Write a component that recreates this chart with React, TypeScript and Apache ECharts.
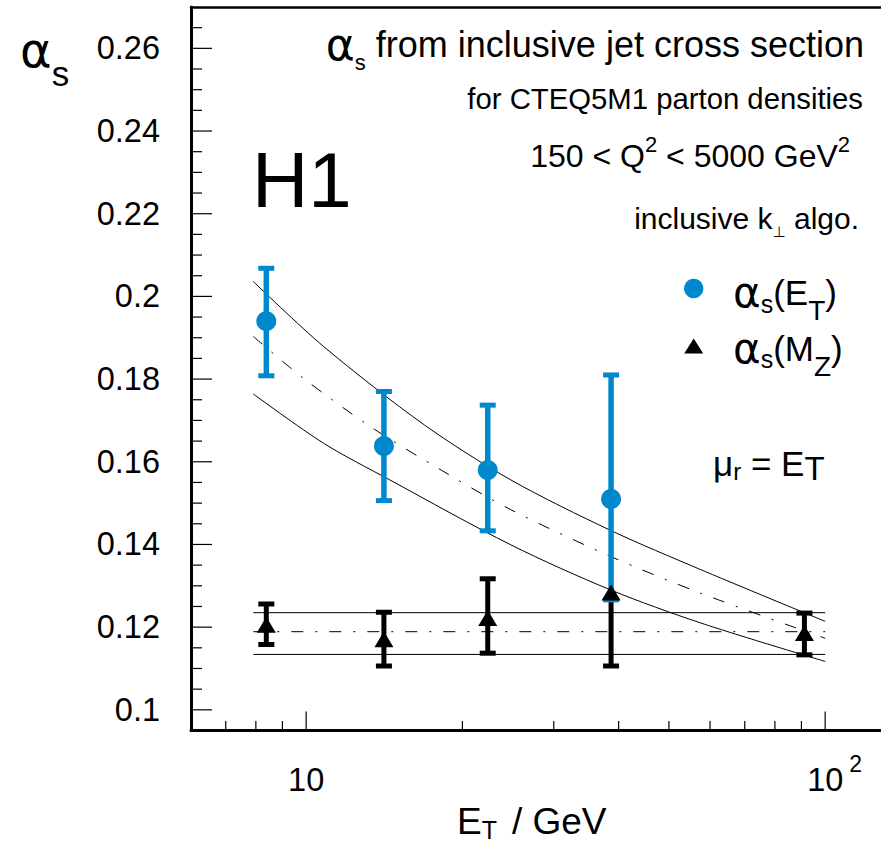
import React, { useEffect, useRef } from 'react';
import * as echarts from 'echarts';

const FONT = '"Liberation Sans", Arial, Helvetica, sans-serif';
const GREEK = '"DejaVu Sans", sans-serif';
const BLUE = '#0088cc';
const BLACK = '#000000';

const X_MIN = 6;
const X_MAX = 128.1;
const Y_MIN = 0.095;
const Y_MAX = 0.27;

// axis ticks
const xTickValues = [7, 8, 9, 10, 20, 30, 40, 50, 60, 70, 80, 90, 100];
const xMajorTicks = [10, 100];
const yTickValues = [
  0.1, 0.105, 0.11, 0.115, 0.12, 0.125, 0.13, 0.135, 0.14, 0.145, 0.15, 0.155,
  0.16, 0.165, 0.17, 0.175, 0.18, 0.185, 0.19, 0.195, 0.2, 0.205, 0.21, 0.215,
  0.22, 0.225, 0.23, 0.235, 0.24, 0.245, 0.25, 0.255, 0.26, 0.265,
];
const yLabelValues = [0.1, 0.12, 0.14, 0.16, 0.18, 0.2, 0.22, 0.24, 0.26];

// alpha_s(E_T) measurements
const etX = [8.38, 14.12, 22.38, 38.68];
const etVal = [0.194, 0.1638, 0.158, 0.151];
const etLow = [0.1808, 0.1506, 0.1433, 0.1266];
const etHigh = [0.2068, 0.177, 0.1737, 0.181];

// alpha_s(M_Z) measurements
const mzX = [8.38, 14.12, 22.38, 38.68, 91.2];
const mzVal = [0.1206, 0.1171, 0.1222, 0.1284, 0.1186];
const mzLow = [0.1158, 0.1106, 0.1137, 0.1106, 0.1133];
const mzHigh: (number | null)[] = [0.1256, 0.1236, 0.1317, null, 0.1234];

// running alpha_s curves
const upperX = [7.91, 10.8, 16.9, 24.8, 38.6, 57.6, 100];
const upperY = [0.2036, 0.1879, 0.1689, 0.1556, 0.1434, 0.1339, 0.1214];
const centralX = [7.91, 9.88, 13.3, 18.2, 24.8, 38.6, 57.6, 100];
const centralY = [0.1903, 0.1802, 0.1685, 0.158, 0.1484, 0.1371, 0.1282, 0.1173];
const lowerX = [7.91, 10.8, 14.5, 24.8, 38.6, 57.6, 100];
const lowerY = [0.1764, 0.1645, 0.1556, 0.1399, 0.129, 0.121, 0.1117];

// alpha_s(M_Z) average band
const bandX = [7.91, 100];
const bandUpperY = [0.1235, 0.1235];
const bandCentralY = [0.1189, 0.1189];
const bandLowerY = [0.1134, 0.1134];

const DASH_DOT = [12, 12, 2, 12];

const pairs = (xs: number[], ys: number[]) => xs.map((x, i) => [x, ys[i]]);

const errorBarRenderer =
  (color: string, barW: number, capW: number, capH: number) => (params: any, api: any) => {
    const x = api.value(0);
    const lo = api.value(1);
    const hi = api.value(2);
    const hasHi = api.value(3);
    const pl = api.coord([x, lo]);
    const ph = api.coord([x, hi]);
    const children: any[] = [
      {
        type: 'rect',
        shape: { x: pl[0] - barW / 2, y: ph[1], width: barW, height: pl[1] - ph[1] },
        style: { fill: color },
      },
      {
        type: 'rect',
        shape: { x: pl[0] - capW / 2, y: pl[1] - capH / 2, width: capW, height: capH },
        style: { fill: color },
      },
    ];
    if (hasHi) {
      children.push({
        type: 'rect',
        shape: { x: ph[0] - capW / 2, y: ph[1] - capH / 2, width: capW, height: capH },
        style: { fill: color },
      });
    }
    return { type: 'group', children };
  };

const tok = (size: number, extra: any = {}, family: string = FONT) => ({
  fontSize: size,
  fontFamily: family,
  fill: BLACK,
  color: BLACK,
  ...extra,
});

const textEl = (x: number, y: number, text: string, align: string, rich: any, size: number) => ({
  type: 'text',
  x,
  y,
  silent: true,
  style: {
    text,
    align,
    verticalAlign: 'middle',
    fontSize: size,
    fontFamily: FONT,
    fill: BLACK,
    rich,
  },
});

function buildOption(): any {
  const lineBase = {
    type: 'line',
    symbol: 'none',
    silent: true,
    z: 2,
    animation: false,
  };
  return {
    animation: false,
    backgroundColor: '#ffffff',
    grid: { left: 191, right: 0, top: 7, bottom: 114.5, containLabel: false, outerBoundsMode: 'none' },
    xAxis: [
      {
        type: 'log',
        logBase: 10,
        min: X_MIN,
        max: X_MAX,
        position: 'bottom',
        axisLine: { show: true, onZero: false, lineStyle: { color: BLACK, width: 3 } },
        axisTick: { show: false },
        minorTick: { show: false },
        splitLine: { show: false },
        axisLabel: {
          margin: 32,
          color: BLACK,
          fontFamily: FONT,
          fontSize: 32.5,
          formatter: (v: number) =>
            Math.abs(v - 10) < 1e-6 ? '{n|10}' : Math.abs(v - 100) < 1e-4 ? '{pad| }{n|10}{sup|2}' : '',
          rich: {
            n: { fontSize: 32.5, fontFamily: FONT, color: BLACK, lineHeight: 34 },
            sup: { fontSize: 23, fontFamily: FONT, color: BLACK, lineHeight: 34, padding: [0, 0, 32, 6] },
            pad: { width: 19, lineHeight: 34, fontSize: 10 },
          },
        },
      },
      {
        type: 'log',
        logBase: 10,
        min: X_MIN,
        max: X_MAX,
        position: 'top',
        axisLine: { show: true, onZero: false, lineStyle: { color: BLACK, width: 2.5 } },
        axisTick: { show: false },
        minorTick: { show: false },
        splitLine: { show: false },
        axisLabel: { show: false },
      },
    ],
    yAxis: {
      type: 'value',
      min: Y_MIN,
      max: Y_MAX,
      interval: 0.005,
      axisLine: { show: true, onZero: false, lineStyle: { color: BLACK, width: 3 } },
      axisTick: { show: false },
      splitLine: { show: false },
      axisLabel: {
        margin: 31,
        color: BLACK,
        fontFamily: FONT,
        fontSize: 32.5,
        padding: [4, 0, 0, 0],
        formatter: (v: number) =>
          yLabelValues.some((m) => Math.abs(m - v) < 1e-7) ? String(Math.round(v * 100) / 100) : '',
      },
    },
    series: [
      { ...lineBase, name: 'band upper', data: pairs(bandX, bandUpperY), lineStyle: { color: BLACK, width: 1 } },
      {
        ...lineBase,
        name: 'band central',
        data: pairs(bandX, bandCentralY),
        lineStyle: { color: BLACK, width: 1, type: DASH_DOT },
      },
      { ...lineBase, name: 'band lower', data: pairs(bandX, bandLowerY), lineStyle: { color: BLACK, width: 1 } },
      {
        ...lineBase,
        name: 'running upper',
        data: pairs(upperX, upperY),
        smooth: 0.3,
        lineStyle: { color: BLACK, width: 1 },
      },
      {
        ...lineBase,
        name: 'running central',
        data: pairs(centralX, centralY),
        smooth: 0.3,
        lineStyle: { color: BLACK, width: 1, type: DASH_DOT },
      },
      {
        ...lineBase,
        name: 'running lower',
        data: pairs(lowerX, lowerY),
        smooth: 0.3,
        lineStyle: { color: BLACK, width: 1 },
      },
      {
        type: 'custom',
        name: 'y ticks',
        silent: true,
        clip: false,
        z: 2,
        encode: { x: 0, y: 1 },
        data: yTickValues.map((v) => [X_MIN, v, yLabelValues.some((m) => Math.abs(m - v) < 1e-9) ? 1 : 0]),
        renderItem: (params: any, api: any) => {
          const p = api.coord([api.value(0), api.value(1)]);
          const x0 = params.coordSys.x;
          const len = api.value(2) ? 21 : 11;
          return {
            type: 'line',
            shape: { x1: x0, y1: p[1], x2: x0 + len, y2: p[1] },
            style: { stroke: BLACK, lineWidth: 1.2 },
          };
        },
      },
      {
        type: 'custom',
        name: 'x ticks',
        silent: true,
        clip: false,
        z: 2,
        encode: { x: 0, y: 1 },
        data: xTickValues.map((v) => [v, Y_MIN, xMajorTicks.indexOf(v) >= 0 ? 1 : 0]),
        renderItem: (params: any, api: any) => {
          const p = api.coord([api.value(0), api.value(1)]);
          const y0 = params.coordSys.y + params.coordSys.height;
          const len = api.value(2) ? 19 : 9.5;
          return {
            type: 'line',
            shape: { x1: p[0], y1: y0, x2: p[0], y2: y0 - len },
            style: { stroke: BLACK, lineWidth: 1.2 },
          };
        },
      },
      {
        type: 'custom',
        name: 'M_Z errors',
        silent: true,
        z: 3,
        encode: { x: 0, y: [1, 2] },
        data: mzX.map((x, i) => [x, mzLow[i], mzHigh[i] == null ? mzVal[i] : mzHigh[i], mzHigh[i] == null ? 0 : 1]),
        renderItem: errorBarRenderer(BLACK, 5, 16, 5),
      },
      {
        type: 'custom',
        name: 'E_T errors',
        silent: true,
        z: 4,
        encode: { x: 0, y: [1, 2] },
        data: etX.map((x, i) => [x, etLow[i], etHigh[i], 1]),
        renderItem: errorBarRenderer(BLUE, 5.5, 16, 5),
      },
      {
        type: 'scatter',
        name: 'alpha_s(E_T)',
        silent: true,
        z: 5,
        symbol: 'circle',
        symbolSize: 20,
        itemStyle: { color: BLUE, opacity: 1 },
        data: pairs(etX, etVal),
      },
      {
        type: 'scatter',
        name: 'alpha_s(M_Z)',
        silent: true,
        z: 6,
        symbol: 'triangle',
        symbolSize: [19, 16],
        itemStyle: { color: BLACK, opacity: 1 },
        data: pairs(mzX, mzVal),
      },
    ],
    graphic: [
      // y axis title
      textEl(20, 50, '{a|α}{s|s}', 'left', {
        a: tok(48, { lineHeight: 50 }, GREEK),
        s: tok(35, { lineHeight: 50, padding: [46, 0, 0, 0] }),
      }, 35),
      // x axis title
      textEl(457, 821, '{e|E}{t|T}{g|/ GeV}', 'left', {
        e: tok(37, { lineHeight: 40 }),
        t: tok(25, { lineHeight: 40, padding: [18, 0, 0, 0] }),
        g: tok(37, { lineHeight: 40, padding: [0, 0, 0, 15] }),
      }, 37),
      // title lines
      textEl(864, 44, '{a|α}{s|s}{m| from inclusive jet cross section}', 'right', {
        a: tok(44, { lineHeight: 44 }, GREEK),
        s: tok(22, { lineHeight: 44, padding: [36, 0, 0, 0] }),
        m: tok(36, { lineHeight: 44 }),
      }, 36),
      textEl(863, 98.3, '{m|for CTEQ5M1 parton densities}', 'right', {
        m: tok(29.3, { lineHeight: 34 }),
      }, 29),
      textEl(850, 156.3, '{m|150 < Q}{p|2}{m| < 5000 GeV}{p|2}', 'right', {
        m: tok(32, { lineHeight: 34 }),
        p: tok(22, { lineHeight: 34, padding: [0, 0, 24, 0] }),
      }, 32),
      textEl(859, 218.3, '{m|inclusive k}{b|⊥}{m| algo.}', 'right', {
        m: tok(30, { lineHeight: 34 }),
        b: tok(15, { lineHeight: 34, padding: [27, 0, 0, 0] }, GREEK),
      }, 30),
      // H1
      textEl(252, 180, '{h|H1}', 'left', { h: tok(78, { lineHeight: 84 }) }, 78),
      // legend
      { type: 'circle', silent: true, shape: { cx: 693.7, cy: 288.5, r: 9.7 }, style: { fill: BLUE } },
      {
        type: 'polygon',
        silent: true,
        shape: { points: [[684.2, 353.5], [703.2, 353.5], [693.7, 338.5]] },
        style: { fill: BLACK },
      },
      textEl(733, 292.5, '{a|α}{s|s}{m|(E}{t|T}{m|)}', 'left', {
        a: tok(42, { lineHeight: 44 }, GREEK),
        s: tok(25, { lineHeight: 44, padding: [22, 0, 0, 0] }),
        m: tok(35, { lineHeight: 44 }),
        t: tok(28, { lineHeight: 44, padding: [36, 0, 0, 0] }),
      }, 35),
      textEl(733, 348, '{a|α}{s|s}{m|(M}{t|Z}{m|)}', 'left', {
        a: tok(42, { lineHeight: 44 }, GREEK),
        s: tok(25, { lineHeight: 44, padding: [22, 0, 0, 0] }),
        m: tok(35, { lineHeight: 44 }),
        t: tok(28, { lineHeight: 44, padding: [36, 0, 0, 0] }),
      }, 35),
      // renormalisation scale
      textEl(713, 463, '{u|μ}{r|r}{m| = E}{t|T}', 'left', {
        u: tok(35, { lineHeight: 40 }),
        r: tok(24, { lineHeight: 40, padding: [16, 0, 0, 0] }),
        m: tok(35, { lineHeight: 40 }),
        t: tok(33, { lineHeight: 40, padding: [10, 0, 0, 0] }),
      }, 35),
    ],
  };
}

export default function App() {
  const ref = useRef<HTMLDivElement>(null);
  useEffect(() => {
    if (!ref.current) return;
    const chart = echarts.init(ref.current, undefined, { renderer: 'svg' });
    chart.setOption(buildOption());
    return () => {
      chart.dispose();
    };
  }, []);
  return (
    <div
      ref={ref}
      style={{ position: 'absolute', left: 0, top: 0, width: 881, height: 845, background: '#ffffff' }}
    />
  );
}
